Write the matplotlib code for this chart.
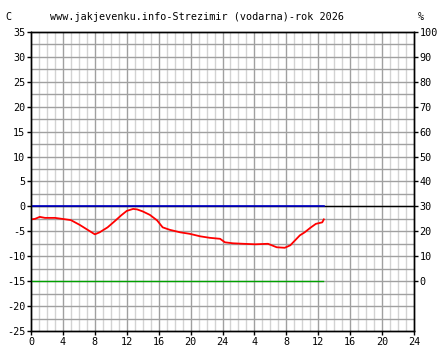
import matplotlib
matplotlib.use("Agg")
import matplotlib.pyplot as plt
import numpy as np

# data: hours since start (48 h window), temperature in C
hours = [0.0, 0.5, 1.1, 1.75, 3.0, 3.9, 5.0, 6.1, 6.9, 8.0, 8.6, 9.6, 10.5, 11.3,
         12.0, 12.8, 13.3, 14.0, 14.9, 15.8, 16.5, 17.4, 18.7, 19.9, 21.2, 22.4,
         23.7, 24.3, 25.3, 26.6, 28.1, 29.7, 30.8, 31.8, 32.5, 33.1, 33.7, 34.3,
         35.0, 35.7, 36.5, 36.7]
temps = [-2.6, -2.5, -2.1, -2.3, -2.3, -2.5, -2.75, -3.7, -4.5, -5.6, -5.2, -4.2,
         -2.95, -1.8, -0.9, -0.5, -0.6, -1.0, -1.7, -2.8, -4.2, -4.7, -5.2, -5.5,
         -6.0, -6.3, -6.5, -7.2, -7.4, -7.5, -7.6, -7.5, -8.2, -8.3, -7.8, -6.8,
         -5.8, -5.2, -4.3, -3.5, -3.2, -2.6]
humidity_hours = [0.0, 36.6]
humidity = [0, 0]  # percent

x_tick_pos = list(range(0, 49, 4))
x_tick_labels = ["0", "4", "8", "12", "16", "20", "24", "4", "8", "12", "16", "20", "24"]
y_ticks = list(range(-25, 36, 5))
pct_ticks = list(range(0, 101, 10))

title = "www.jakjevenku.info-Strezimir (vodarna)-rok 2026"

plt.rcParams['font.family'] = ['DejaVu Sans Mono']
fs = 7.3

fig = plt.figure(figsize=(4.44, 3.60), dpi=100)
ax = fig.add_axes([31/444, 1-331/360, (414-31)/444, (331-32)/360])
ax.set_xlim(0, 48)
ax.set_ylim(-25, 35)

# grid
for h in range(1, 48):
    col = '#a0a0a0' if h % 4 == 0 else '#d3d3d3'
    ax.axvline(h, color=col, lw=1.0, zorder=1)
for v in np.arange(-22.5, 35, 2.5):
    ax.axhline(v, color='#a0a0a0', lw=1.0, zorder=1)

ax.axhline(0, color='black', lw=1.0, zorder=2)
ax.plot([0, hours[-1]], [0, 0], color='#0000cc', lw=1.2, zorder=3)

# humidity (% -> C: T = (pct - 30)/2)
ax.plot(humidity_hours, [(p - 30) / 2 for p in humidity], color='#00a000', lw=1.0, zorder=3)

ax.plot(hours, temps, color='red', lw=1.3, zorder=4)

ax.set_xticks(x_tick_pos)
ax.set_xticklabels(x_tick_labels, fontsize=fs)
ax.set_yticks(y_ticks)
ax.set_yticklabels([str(v) for v in y_ticks], fontsize=fs)
ax.tick_params(axis='both', length=3, width=1, pad=1, color='black')

ax2 = ax.twinx()
ax2.set_ylim(-25, 35)
ax2.set_yticks([(p - 30) / 2 for p in pct_ticks])
ax2.set_yticklabels([str(p) for p in pct_ticks], fontsize=fs)
ax2.tick_params(axis='y', length=3, width=1, pad=1)

for a in (ax, ax2):
    for s in a.spines.values():
        s.set_color('black')
        s.set_linewidth(1.0)

fig.text(5/444, 1-17/360, "C", fontsize=fs, va='center', ha='left')
fig.text(50/444, 1-17/360, title, fontsize=fs, va='center', ha='left')
fig.text(418/444, 1-17/360, "%", fontsize=fs, va='center', ha='left')

fig.savefig("out.png", dpi=100)
